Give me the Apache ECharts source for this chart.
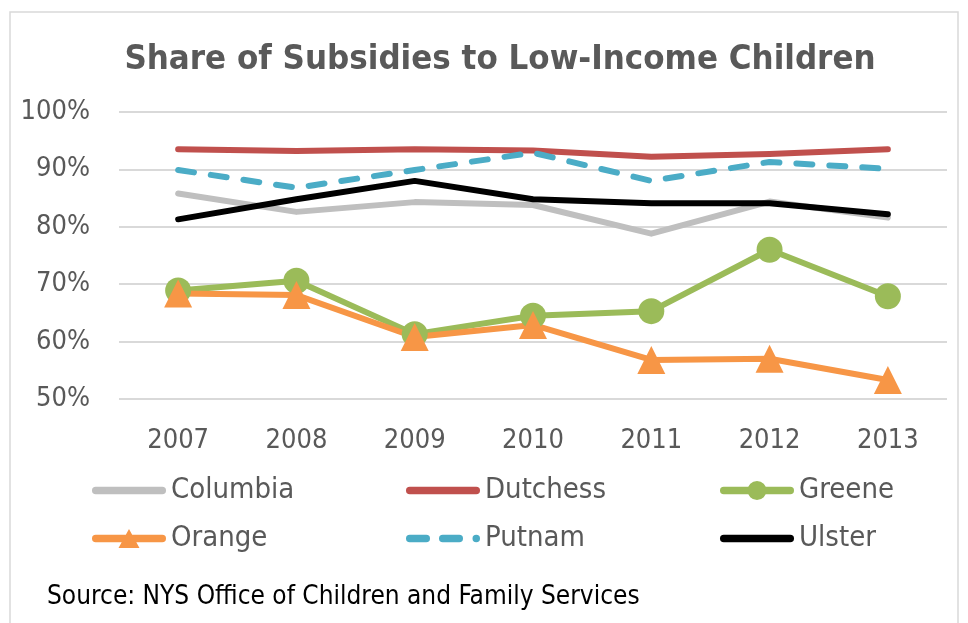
<!DOCTYPE html>
<html><head><meta charset="utf-8">
<script src="https://cdn.jsdelivr.net/npm/echarts@6/dist/echarts.min.js"></script>
<style>html,body{margin:0;padding:0;background:#fff}#c{width:968px;height:623px}</style>
</head><body><div id="c"></div>
<script>
const years = ['2007','2008','2009','2010','2011','2012','2013'];
const columbia = [85.8, 82.6, 84.3, 83.8, 78.8, 84.4, 81.6];
const dutchess = [93.5, 93.2, 93.5, 93.3, 92.2, 92.7, 93.5];
const greene   = [68.9, 70.6, 61.3, 64.5, 65.3, 76.0, 67.9];
const orange   = [68.4, 68.1, 60.8, 62.9, 56.8, 57.0, 53.3];
const putnam   = [89.9, 86.8, 89.9, 92.9, 88.0, 91.3, 90.1];
const ulster   = [81.3, 84.8, 88.0, 84.8, 84.1, 84.1, 82.2];
const yTicks = {min: 50, max: 100, step: 10};

const FONT = '"Liberation Sans Narrow","DejaVu Sans Condensed","Liberation Sans",sans-serif';
const grey = '#595959';
const names = ['Columbia','Dutchess','Greene','Orange','Putnam','Ulster'];

// legend icons (shapes only)
const ICON_LINE = 'path://M3.75,0 L70.25,0 A3.75,3.75 0 0 1 70.25,7.5 L3.75,7.5 A3.75,3.75 0 0 1 3.75,0 Z';
const ICON_CIRCLE = 'path://M3.75,5.75 L70.25,5.75 A3.75,3.75 0 0 1 70.25,13.25 L3.75,13.25 A3.75,3.75 0 0 1 3.75,5.75 Z ' +
  'M46.5,9.5 A9.5,9.5 0 1 1 27.5,9.5 A9.5,9.5 0 1 1 46.5,9.5 Z';
const ICON_TRI = 'path://M3.75,5.75 L70.25,5.75 A3.75,3.75 0 0 1 70.25,13.25 L3.75,13.25 A3.75,3.75 0 0 1 3.75,5.75 Z ' +
  'M37,0 L47.5,19 L26.5,19 Z';
const ICON_DASH = 'path://M3.75,0 L20.25,0 A3.75,3.75 0 0 1 20.25,7.5 L3.75,7.5 A3.75,3.75 0 0 1 3.75,0 Z ' +
  'M36.75,0 L53.25,0 A3.75,3.75 0 0 1 53.25,7.5 L36.75,7.5 A3.75,3.75 0 0 1 36.75,0 Z ' +
  'M74,3.75 A3.75,3.75 0 1 1 66.5,3.75 A3.75,3.75 0 1 1 74,3.75 Z';
const legendSpec = [
  {icon: ICON_LINE, h: 7.5, left: 92, cy: 489},
  {icon: ICON_LINE, h: 7.5, left: 406, cy: 489},
  {icon: ICON_CIRCLE, h: 19, left: 720, cy: 489},
  {icon: ICON_TRI, h: 19, left: 92, cy: 537},
  {icon: ICON_DASH, h: 7.5, left: 406, cy: 537},
  {icon: ICON_LINE, h: 7.5, left: 720, cy: 537}
];

const chart = echarts.init(document.getElementById('c'));
function line(name, data, color, extra) {
  return Object.assign({
    name, type: 'line', data,
    symbol: 'none',
    lineStyle: {color, width: 6, cap: 'round', join: 'round'},
    itemStyle: {color},
    emphasis: {disabled: true},
    animation: false
  }, extra || {});
}
chart.setOption({
  animation: false,
  textStyle: {fontFamily: FONT},
  title: {
    text: 'Share of Subsidies to Low-Income Children',
    left: 495, top: 38, textAlign: 'center',
    textStyle: {fontFamily: FONT, fontSize: 34.5, fontWeight: 'bold', color: grey}
  },
  grid: {left: 119, right: 21, top: 112, bottom: 224, containLabel: false},
  xAxis: {
    type: 'category', data: years, boundaryGap: true,
    axisLine: {show: false}, axisTick: {show: false},
    axisLabel: {color: grey, fontSize: 27, margin: 28, fontFamily: FONT}
  },
  yAxis: {
    type: 'value', min: yTicks.min, max: yTicks.max, interval: yTicks.step,
    axisLine: {show: false}, axisTick: {show: false},
    axisLabel: {color: grey, fontSize: 27, margin: 29, formatter: '{value}%', fontFamily: FONT},
    splitLine: {lineStyle: {color: '#d9d9d9', width: 2}}
  },
  legend: names.map((n, i) => ({
    data: [{name: n, icon: legendSpec[i].icon}],
    left: legendSpec[i].left, top: legendSpec[i].cy - 13,
    itemWidth: 74, itemHeight: legendSpec[i].h, itemGap: 0, padding: 0,
    textStyle: {fontSize: 29, color: grey, fontFamily: FONT},
    selectedMode: false
  })),
  series: [
    line('Columbia', columbia, '#bfbfbf'),
    line('Dutchess', dutchess, '#c0504d'),
    line('Greene', greene, '#9bbb59', {symbol: 'circle', symbolSize: 26, showSymbol: true}),
    line('Orange', orange, '#f79646', {symbol: 'triangle', symbolSize: [28, 28], showSymbol: true}),
    line('Putnam', putnam, '#4bacc6', {lineStyle: {color: '#4bacc6', width: 6, type: [16, 17], cap: 'round'}}),
    line('Ulster', ulster, '#000000')
  ],
  graphic: [
    {type: 'rect', shape: {x: 10, y: 12, width: 948, height: 640},
     style: {fill: 'none', stroke: '#d9d9d9', lineWidth: 1.5}, silent: true, z: -1},
    {type: 'text', left: 47, top: 584,
     style: {text: 'Source: NYS Office of Children and Family Services', fontSize: 26, fill: '#000', fontFamily: FONT}}
  ]
});
</script></body></html>
